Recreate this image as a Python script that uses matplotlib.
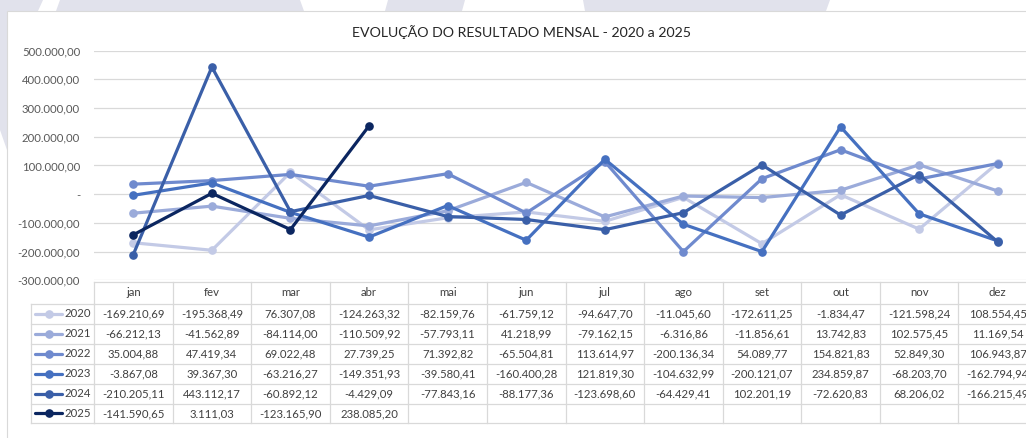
import numpy as np
import matplotlib
matplotlib.use("Agg")
import matplotlib.pyplot as plt
from matplotlib.patches import Polygon, Rectangle
from matplotlib.lines import Line2D
from matplotlib.transforms import Affine2D, blended_transform_factory

plt.rcParams['font.family'] = ['Lato', 'DejaVu Sans']

months = ["jan", "fev", "mar", "abr", "mai", "jun", "jul", "ago", "set", "out", "nov", "dez"]
years = ["2020", "2021", "2022", "2023", "2024", "2025"]
v2020 = [-169210.69, -195368.49, 76307.08, -124263.32, -82159.76, -61759.12, -94647.70, -11045.60, -172611.25, -1834.47, -121598.24, 108554.45]
v2021 = [-66212.13, -41562.89, -84114.00, -110509.92, -57793.11, 41218.99, -79162.15, -6316.86, -11856.61, 13742.83, 102575.45, 11169.54]
v2022 = [35004.88, 47419.34, 69022.48, 27739.25, 71392.82, -65504.81, 113614.97, -200136.34, 54089.77, 154821.83, 52849.30, 106943.87]
v2023 = [-3867.08, 39367.30, -63216.27, -149351.93, -39580.41, -160400.28, 121819.30, -104632.99, -200121.07, 234859.87, -68203.70, -162794.94]
v2024 = [-210205.11, 443112.17, -60892.12, -4429.09, -77843.16, -88177.36, -123698.60, -64429.41, 102201.19, -72620.83, 68206.02, -166215.49]
v2025 = [-141590.65, 3111.03, -123165.90, 238085.20]
series = [v2020, v2021, v2022, v2023, v2024, v2025]
colors = ["#c3cae6", "#9babda", "#6f8ace", "#4570c0", "#3a5fa8", "#0b2660"]
yticks = [500000, 400000, 300000, 200000, 100000, 0, -100000, -200000, -300000]
title = "EVOLUÇÃO DO RESULTADO MENSAL - 2020 a 2025"

W, H = 1026, 438
fig = plt.figure(figsize=(W / 100, H / 100), dpi=100)
fig.patch.set_facecolor("white")
pix = Affine2D().scale(1 / W, -1 / H).translate(0, 1) + fig.transFigure

# decorative background shapes
grey = "#e1e2ec"
for pts in [
    [(0, 0), (43, 0), (38, 11), (0, 11)],
    [(0, 0), (7, 0), (7, 150), (0, 130)],
    [(60, 0), (300, 0), (304, 11), (56, 11)],
    [(388, 0), (465, 0), (462, 11), (385, 11)],
    [(583, 0), (830, 0), (826, 11), (585, 11)],
]:
    fig.patches.append(Polygon(pts, closed=True, transform=pix, facecolor=grey, edgecolor="none", zorder=-3))
fig.patches.append(Rectangle((7, 11), 1100, 500, transform=pix, facecolor="white", edgecolor="#d9d9d9", lw=0.8, zorder=-2))

def fmt(v):
    s = f"{abs(v):,.2f}".replace(",", "X").replace(".", ",").replace("X", ".")
    return ("-" if v < 0 else "") + s

def ytick_fmt(v):
    if v == 0:
        return "-"
    return fmt(v)

x0, x1 = 94, 1037
ytop, ybot = 50.7, 280.3
ax = fig.add_axes([x0 / W, 1 - ybot / H, (x1 - x0) / W, (ybot - ytop) / H])
ax.set_facecolor("none")
ax.set_xlim(-0.5, 11.5)
ax.set_ylim(-300000, 500000)
for s in ax.spines.values():
    s.set_visible(False)
ax.set_xticks([])
ax.set_yticks(yticks)
ax.set_yticklabels([ytick_fmt(v) for v in yticks])
ax.tick_params(axis="y", length=0, pad=10, labelsize=8.2, labelcolor="#595959")
ax.grid(axis="y", color="#d9d9d9", lw=0.9)
ax.set_axisbelow(True)

xs = np.arange(len(months))
for vals, c in zip(series, colors):
    ax.plot(xs[:len(vals)], vals, color=c, lw=2.3, marker="o", ms=5.2,
            solid_joinstyle="round", solid_capstyle="round", zorder=3, clip_on=False)

fig.text(522 / W, 1 - 32 / H, title, ha="center", va="center", fontsize=10.2, color="#262626")

# data table
tr = blended_transform_factory(ax.transData, pix)
gc = "#d9d9d9"
htop, hbot, rh = 282, 304, 19.9
nrows = len(years)
tbot = hbot + nrows * rh
line_kw = dict(color=gc, lw=0.9, clip_on=False, zorder=1)
fig.add_artist(Line2D([-0.5, 11.5], [htop, htop], transform=tr, **line_kw))
for i in range(len(months) + 1):
    fig.add_artist(Line2D([i - 0.5, i - 0.5], [htop, tbot], transform=tr, **line_kw))
lx0 = 31
fig.add_artist(Line2D([lx0, lx0], [hbot, tbot], transform=pix, **line_kw))
for r in range(nrows + 1):
    y = hbot + r * rh
    fig.add_artist(Line2D([lx0, x0], [y, y], transform=pix, **line_kw))
    fig.add_artist(Line2D([-0.5, 11.5], [y, y], transform=tr, **line_kw))

tc = "#404040"
for i, m in enumerate(months):
    fig.text(i, (htop + hbot) / 2, m, transform=tr, ha="center", va="center", fontsize=8.2, color=tc)
for r, (yr, vals, c) in enumerate(zip(years, series, colors)):
    yc = hbot + (r + 0.5) * rh
    fig.add_artist(Line2D([35, 62], [yc, yc], transform=pix, color=c, lw=2.3, solid_capstyle="round", zorder=2))
    fig.add_artist(Line2D([48.5], [yc], transform=pix, color=c, marker="o", ms=5.2, zorder=2))
    fig.text(91, yc, yr, transform=pix, ha="right", va="center", fontsize=8.2, color=tc)
    for i, v in enumerate(vals):
        fig.text(i, yc, fmt(v), transform=tr, ha="center", va="center", fontsize=8.2, color=tc)

fig.savefig("out.png", dpi=100)
